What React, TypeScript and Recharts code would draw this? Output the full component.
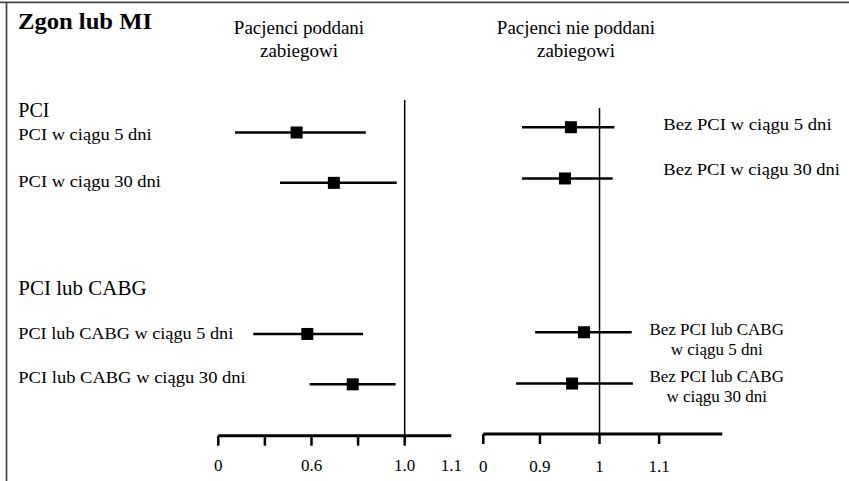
import React from 'react';
import { ScatterChart, Scatter, XAxis, YAxis, ErrorBar, ReferenceLine } from 'recharts';

const W = 849;
const H = 481;
const FONT = 'Liberation Serif, Times New Roman, serif';

// row index on the y scale: 0,1 = PCI group, 4,5 = PCI lub CABG group
const rows = [0, 1, 4, 5];

// left panel: Pacjenci poddani zabiegowi
const treatedEst = [0.536, 0.696, 0.582, 0.777];
const treatedLow = [0.272, 0.465, 0.35, 0.592];
const treatedHigh = [0.833, 0.966, 0.821, 0.961];

// right panel: Pacjenci nie poddani zabiegowi
const untreatedEst = [0.952, 0.942, 0.974, 0.954];
const untreatedLow = [0.87, 0.87, 0.892, 0.86];
const untreatedHigh = [1.025, 1.022, 1.054, 1.056];

const leftTicks = [0.2, 0.4, 0.6, 0.8, 1.0, 1.2];
const leftTickLabels = ['0', '', '0.6', '', '1.0', '1.1'];
const rightTicks = [0.805, 0.9, 1.0, 1.1];
const rightTickLabels = ['0', '0.9', '1', '1.1'];

const toRows = (est: number[], low: number[], high: number[]) =>
  est.map((v, i) => ({ x: v, y: rows[i], err: [v - low[i], high[i] - v] }));

const treatedData = toRows(treatedEst, treatedLow, treatedHigh);
const untreatedData = toRows(untreatedEst, untreatedLow, untreatedHigh);

const SquareDot = (props: any) => {
  const { cx, cy } = props;
  return <rect x={cx - 6} y={cy - 6} width={12} height={12} fill="#000" />;
};

const makeTick = (ticks: number[], labels: string[], marks: number, dy: number) => (props: any) => {
  const { x, y, payload } = props;
  const i = ticks.indexOf(payload.value);
  return (
    <g>
      {i < marks && <line x1={x} x2={x} y1={y} y2={y + 10} stroke="#000" strokeWidth={2.5} />}
      <text x={x} y={y + dy} textAnchor="middle" style={{ fontFamily: FONT, fontSize: 17 }} fill="#000">
        {labels[i]}
      </text>
    </g>
  );
};

const Panel = (p: {
  data: any[];
  domain: [number, number];
  yDomain: [number, number];
  ticks: number[];
  tickLabels: string[];
  marks: number;
  margin: any;
  dy: number;
}) => (
  <div style={{ position: 'absolute', left: 0, top: 0 }}>
    <ScatterChart width={W} height={H} margin={p.margin}>
      <XAxis
        type="number"
        dataKey="x"
        domain={p.domain}
        allowDataOverflow
        ticks={p.ticks}
        interval={0}
        height={40}
        tickSize={0}
        tickMargin={0}
        tickLine={false}
        axisLine={{ stroke: '#000', strokeWidth: 3 }}
        tick={makeTick(p.ticks, p.tickLabels, p.marks, p.dy)}
      />
      <YAxis type="number" dataKey="y" domain={p.yDomain} reversed hide width={0} allowDataOverflow />
      <ReferenceLine x={1} stroke="#000" strokeWidth={1.5} />
      <Scatter data={p.data} shape={<SquareDot />} isAnimationActive={false}>
        <ErrorBar dataKey="err" direction="x" width={0} stroke="#000" strokeWidth={2.5} />
      </Scatter>
    </ScatterChart>
  </div>
);

const T = (p: { x: number; y: number; s?: number; len?: number; a?: string; b?: boolean; children: string }) => (
  <text
    x={p.x}
    y={p.y}
    textAnchor={(p.a as any) || 'start'}
    textLength={p.len}
    lengthAdjust={p.len ? 'spacingAndGlyphs' : undefined}
    fill="#000"
    style={{ fontFamily: FONT, fontSize: p.s || 17, fontWeight: p.b ? 700 : 400 }}
  >
    {p.children}
  </text>
);

export default function App() {
  return (
    <div style={{ position: 'absolute', left: 0, top: 0, width: W, height: H, background: '#fff', fontFamily: FONT }}>
      <svg width={W} height={H} style={{ position: 'absolute', left: 0, top: 0 }}>
        <line x1={0} x2={W} y1={2.3} y2={2.3} stroke="#444" strokeWidth={1.7} />
        <line x1={6.5} x2={6.5} y1={2} y2={H} stroke="#444" strokeWidth={1.7} />
        <T x={18} y={29.3} s={24} b len={134}>Zgon lub MI</T>
        <T x={299} y={34} s={19} a="middle">Pacjenci poddani</T>
        <T x={299} y={57} s={19} a="middle">zabiegowi</T>
        <T x={576} y={34} s={19} a="middle">Pacjenci nie poddani</T>
        <T x={576} y={57} s={19} a="middle">zabiegowi</T>

        <T x={18.3} y={116.7} s={20}>PCI</T>
        <T x={18.3} y={139.5} len={133.4}>PCI w ciągu 5 dni</T>
        <T x={18.3} y={187} len={142.7}>PCI w ciągu 30 dni</T>
        <T x={18.3} y={295} s={20.5} len={128.3}>PCI lub CABG</T>
        <T x={18.3} y={338.5} len={215}>PCI lub CABG w ciągu 5 dni</T>
        <T x={18.3} y={382.5} len={227.4}>PCI lub CABG w ciągu 30 dni</T>

        <T x={663.3} y={130} len={168.3}>Bez PCI w ciągu 5 dni</T>
        <T x={663.3} y={175} len={176.7}>Bez PCI w ciągu 30 dni</T>
        <T x={716.7} y={335} a="middle">Bez PCI lub CABG</T>
        <T x={716.7} y={355} a="middle">w ciągu 5 dni</T>
        <T x={716.7} y={381.7} a="middle">Bez PCI lub CABG</T>
        <T x={716.7} y={401.7} a="middle">w ciągu 30 dni</T>
      </svg>
      <Panel
        data={treatedData}
        domain={[0.2, 1.2]}
        yDomain={[-0.645, 6.02]}
        ticks={leftTicks}
        tickLabels={leftTickLabels}
        marks={5}
        dy={35}
        margin={{ top: 100, right: W - 451.3, left: 218.3, bottom: H - 435.7 - 40 }}
      />
      <Panel
        data={untreatedData}
        domain={[0.805, 1.206]}
        yDomain={[-0.375, 5.985]}
        ticks={rightTicks}
        tickLabels={rightTickLabels}
        marks={4}
        dy={38}
        margin={{ top: 108, right: W - 722.3, left: 483.3, bottom: H - 434 - 40 }}
      />
    </div>
  );
}
